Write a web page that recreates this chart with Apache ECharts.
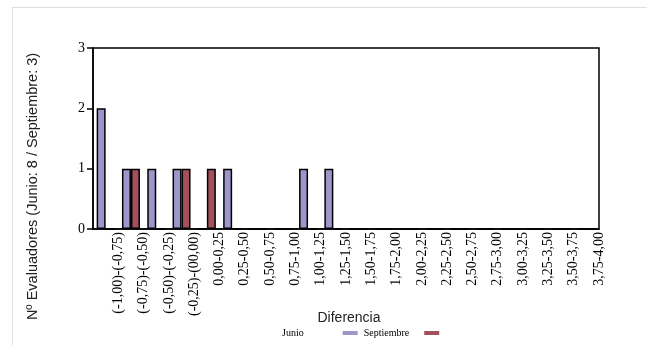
<!DOCTYPE html>
<html>
<head>
<meta charset="utf-8">
<script src="https://cdn.jsdelivr.net/npm/echarts@6/dist/echarts.min.js"></script>
<style>
  html, body { margin: 0; padding: 0; background: #fff; }
  #frame { position: absolute; left: 12px; top: 7px; right: 0; bottom: 0; border-left: 1px solid #dedede; border-top: 1px solid #dedede; }
  #chart { position: absolute; left: 0; top: 0; width: 647px; height: 345px; }
</style>
</head>
<body>
<div id="frame"></div>
<div id="chart"></div>
<script>
var categories = ['(-1,00)-(-0,75)', '(-0,75)-(-0,50)', '(-0,50)-(-0,25)', '(-0,25)-(00,00)',
  '0,00-0,25', '0,25-0,50', '0,50-0,75', '0,75-1,00', '1,00-1,25', '1,25-1,50',
  '1,50-1,75', '1,75-2,00', '2,00-2,25', '2,25-2,50', '2,50-2,75', '2,75-3,00',
  '3,00-3,25', '3,25-3,50', '3,50-3,75', '3,75-4,00'];
var junio = [2, 1, 1, 1, 0, 1, 0, 0, 1, 1, 0, 0, 0, 0, 0, 0, 0, 0, 0, 0];
var septiembre = [0, 1, 0, 1, 1, 0, 0, 0, 0, 0, 0, 0, 0, 0, 0, 0, 0, 0, 0, 0];
var yTicks = [0, 1, 2, 3];

var serif = '"Liberation Serif", "Times New Roman", serif';
var sans = '"Liberation Sans", Arial, sans-serif';
var colJunio = '#9d96cb';
var colSept = '#a4505c';

var chart = echarts.init(document.getElementById('chart'), null, { renderer: 'canvas' });
chart.setOption({
  animation: false,
  grid: { left: 93, right: 48, top: 48, bottom: 116, show: true, borderColor: '#000', borderWidth: 1.5 },
  legend: {
    left: 277, top: 323,
    align: 'right',
    itemWidth: 15, itemHeight: 4, itemGap: 6,
    icon: 'rect',
    itemStyle: { borderWidth: 0 },
    textStyle: { fontFamily: serif, fontSize: 10, color: '#000' },
    data: [
      { name: 'Junio', textStyle: { padding: [0, 34, 0, 0] } },
      { name: 'Septiembre', textStyle: { padding: [0, 10, 0, 0] } }
    ]
  },
  xAxis: [{
    type: 'category',
    data: categories,
    boundaryGap: true,
    name: 'Diferencia',
    nameLocation: 'middle',
    nameGap: 82,
    nameTextStyle: { fontFamily: sans, fontSize: 14, color: '#222', padding: [0, 0, 0, 6] },
    axisLine: { lineStyle: { color: '#000', width: 1.5 } },
    axisTick: { length: 5, lineStyle: { color: '#000', width: 1.5 } },
    axisLabel: { show: false }
  }, {
    type: 'category',
    data: [''].concat(categories),
    boundaryGap: false,
    position: 'bottom',
    axisLine: { show: false },
    axisTick: { show: false },
    axisLabel: { interval: 0, rotate: 90, margin: 3, fontFamily: serif, fontSize: 14, color: '#000' }
  }],
  yAxis: {
    type: 'value',
    min: yTicks[0],
    max: yTicks[yTicks.length - 1],
    interval: 1,
    name: 'Nº Evaluadores (Junio: 8 / Septiembre: 3)',
    nameLocation: 'middle',
    nameGap: 53,
    nameTextStyle: { fontFamily: sans, fontSize: 14.5, color: '#222', padding: [0, 96, 0, 0] },
    axisLine: { show: true, lineStyle: { color: '#000', width: 1.5 } },
    axisTick: { show: true, length: 6, lineStyle: { color: '#000', width: 1.5 } },
    axisLabel: { margin: 8, fontFamily: serif, fontSize: 14, color: '#000' },
    splitLine: { show: false }
  },
  series: [{
    name: 'Junio',
    type: 'bar',
    xAxisIndex: 0,
    data: junio,
    barWidth: 9,
    barGap: '0%',
    itemStyle: { color: colJunio, borderColor: '#000', borderWidth: 1.5 }
  }, {
    name: 'Septiembre',
    type: 'bar',
    xAxisIndex: 0,
    data: septiembre,
    barWidth: 9,
    itemStyle: { color: colSept, borderColor: '#000', borderWidth: 1.5 }
  }]
});
</script>
</body>
</html>
